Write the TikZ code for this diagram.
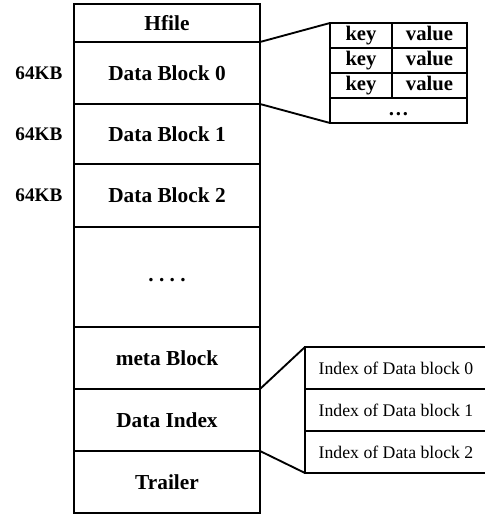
\documentclass[tikz,border=0pt]{standalone}
\usepackage{fontspec}
\setmainfont{Liberation Serif}
\usetikzlibrary{positioning}

\begin{document}
\begin{tikzpicture}[x=0.75pt, y=-0.75pt,
    cell/.style={draw, line width=1.4pt, outer sep=0pt, inner sep=0pt, minimum width=139.5pt, font=\fontsize{16}{18}\selectfont\bfseries},
    kvcell/.style={draw, line width=1.4pt, outer sep=0pt, inner sep=0pt, minimum height=18.75pt, text height=11pt, text depth=3pt, font=\fontsize{15.5}{16}\selectfont\bfseries},
    idxcell/.style={draw, line width=1.4pt, outer sep=0pt, inner sep=0pt, minimum width=136.5pt, minimum height=31.5pt, font=\fontsize{13.3}{15}\selectfont},
    sizelabel/.style={inner sep=0pt, font=\fontsize{14.4}{16}\selectfont\bfseries}]
    \useasboundingbox (0,0) rectangle (484,516);

    % HFile column
    \node[cell, minimum height=28.5pt, anchor=north west] (hfile) at (74,4) {Hfile};
    \node[cell, minimum height=46.5pt, below=0pt of hfile] (db0) {Data Block 0};
    \node[cell, minimum height=45pt, below=0pt of db0] (db1) {Data Block 1};
    \node[cell, minimum height=47.25pt, below=0pt of db1] (db2) {Data Block 2};
    \node[cell, minimum height=75pt, below=0pt of db2] (more) {\strut.\ .\ .\ .};
    \node[cell, minimum height=46.5pt, below=0pt of more] (meta) {meta Block};
    \node[cell, minimum height=46.5pt, below=0pt of meta] (index) {Data Index};
    \node[cell, minimum height=46.5pt, below=0pt of index] (trailer) {Trailer};

    \node[sizelabel, left=8.5pt of db0] (size0) {64KB};
    \node[sizelabel, left=8.5pt of db1] (size1) {64KB};
    \node[sizelabel, left=8.5pt of db2] (size2) {64KB};

    % key/value table
    \node[kvcell, minimum width=46.5pt, anchor=north west] (key0) at (330,23) {key};
    \node[kvcell, minimum width=56.25pt, right=0pt of key0] (val0) {value};
    \node[kvcell, minimum width=46.5pt, below=0pt of key0] (key1) {key};
    \node[kvcell, minimum width=56.25pt, right=0pt of key1] (val1) {value};
    \node[kvcell, minimum width=46.5pt, below=0pt of key1] (key2) {key};
    \node[kvcell, minimum width=56.25pt, right=0pt of key2] (val2) {value};
    \node[kvcell, minimum width=102.75pt, below=0pt of key2.south west, anchor=north west] (kvmore) {…};

    % index table
    \node[idxcell, anchor=north west] (idx0) at (305,347) {Index of Data block 0};
    \node[idxcell, below=0pt of idx0] (idx1) {Index of Data block 1};
    \node[idxcell, below=0pt of idx1] (idx2) {Index of Data block 2};

    \draw[line width=1.4pt] (hfile.south east) -- (key0.north west);
    \draw[line width=1.4pt] (db0.south east) -- (kvmore.south west);
    \draw[line width=1.4pt] (meta.south east) -- (idx0.north west);
    \draw[line width=1.4pt] (index.south east) -- (idx2.south west);
\end{tikzpicture}
\end{document}
